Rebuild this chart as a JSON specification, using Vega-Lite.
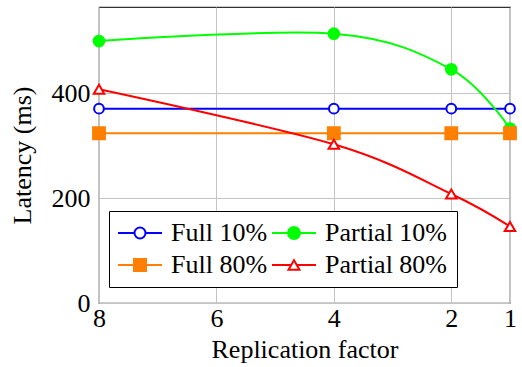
{
  "$schema": "https://vega.github.io/schema/vega-lite/v6.json",
  "width": 411,
  "height": 296,
  "autosize": {"type": "none"},
  "padding": {"left": 99, "top": 7, "right": 12, "bottom": 64},
  "background": "white",
  "config": {
    "font": "Liberation Serif, DejaVu Serif, serif",
    "view": {"stroke": "#333333", "strokeWidth": 1.2},
    "axis": {
      "labelFont": "Liberation Serif, DejaVu Serif, serif",
      "titleFont": "Liberation Serif, DejaVu Serif, serif",
      "labelFontSize": 26,
      "titleFontSize": 26,
      "titleFontWeight": "normal",
      "labelColor": "black",
      "titleColor": "black",
      "gridColor": "#c4c4c4",
      "gridWidth": 1,
      "domain": false,
      "ticks": false,
      "tickSize": 0,
      "labelFlush": false,
      "labelOverlap": false
    },
    "legend": {
      "labelFont": "Liberation Serif, DejaVu Serif, serif",
      "labelFontSize": 26,
      "labelColor": "black",
      "title": null,
      "orient": "none",
      "legendX": 10,
      "legendY": 204,
      "direction": "horizontal",
      "columns": 2,
      "columnPadding": 0,
      "rowPadding": 6,
      "padding": 9,
      "strokeColor": "black",
      "fillColor": "white",
      "symbolSize": 64,
      "symbolStrokeWidth": 2,
      "symbolOpacity": 1,
      "labelOffset": 27
    }
  },
  "data": {
    "values": [
      {"series": "Full 10%", "rf": 8, "latency": 371},
      {"series": "Full 10%", "rf": 4, "latency": 371},
      {"series": "Full 10%", "rf": 2, "latency": 371},
      {"series": "Full 10%", "rf": 1, "latency": 371},
      {"series": "Partial 10%", "rf": 8, "latency": 500},
      {"series": "Partial 10%", "rf": 4, "latency": 514},
      {"series": "Partial 10%", "rf": 2, "latency": 446},
      {"series": "Partial 10%", "rf": 1, "latency": 333},
      {"series": "Full 80%", "rf": 8, "latency": 324},
      {"series": "Full 80%", "rf": 4, "latency": 324},
      {"series": "Full 80%", "rf": 2, "latency": 324},
      {"series": "Full 80%", "rf": 1, "latency": 324},
      {"series": "Partial 80%", "rf": 8, "latency": 408},
      {"series": "Partial 80%", "rf": 4, "latency": 303},
      {"series": "Partial 80%", "rf": 2, "latency": 208},
      {"series": "Partial 80%", "rf": 1, "latency": 146}
    ]
  },
  "encoding": {
    "x": {
      "field": "rf",
      "type": "quantitative",
      "scale": {"domain": [1, 8], "reverse": true, "nice": false, "zero": false},
      "axis": {"values": [8, 6, 4, 2, 1], "title": "Replication factor", "labelPadding": 2, "titlePadding": 5}
    },
    "y": {
      "field": "latency",
      "type": "quantitative",
      "scale": {"domain": [0, 565], "nice": false},
      "axis": {"values": [0, 200, 400], "title": "Latency (ms)", "labelPadding": 9, "titlePadding": 16}
    }
  },
  "layer": [
    {
      "transform": [{"filter": {"field": "series", "equal": "Full 10%"}}],
      "mark": {"type": "line", "interpolate": "cardinal", "tension": 0, "strokeWidth": 2, "stroke": "#0000ff"},
      "encoding": {}
    },
    {
      "transform": [{"filter": {"field": "series", "equal": "Full 10%"}}],
      "mark": {"type": "point", "shape": "circle", "size": 95, "stroke": "#0000ff", "fill": "white", "strokeWidth": 2, "opacity": 1}
    },
    {
      "transform": [{"filter": {"field": "series", "equal": "Partial 10%"}}],
      "mark": {"type": "line", "interpolate": "cardinal", "tension": 0, "strokeWidth": 2, "stroke": "#00ff00"},
      "encoding": {}
    },
    {
      "transform": [{"filter": {"field": "series", "equal": "Partial 10%"}}],
      "mark": {"type": "point", "shape": "circle", "size": 115, "stroke": "#00ff00", "fill": "#00ff00", "strokeWidth": 2, "opacity": 1}
    },
    {
      "transform": [{"filter": {"field": "series", "equal": "Full 80%"}}],
      "mark": {"type": "line", "interpolate": "cardinal", "tension": 0, "strokeWidth": 2, "stroke": "#ff8000"},
      "encoding": {}
    },
    {
      "transform": [{"filter": {"field": "series", "equal": "Full 80%"}}],
      "mark": {"type": "point", "shape": "square", "size": 140, "stroke": "#ff8000", "fill": "#ff8000", "strokeWidth": 2, "opacity": 1}
    },
    {
      "transform": [{"filter": {"field": "series", "equal": "Partial 80%"}}],
      "mark": {"type": "line", "interpolate": "cardinal", "tension": 0, "strokeWidth": 2, "stroke": "#ff0000"},
      "encoding": {}
    },
    {
      "transform": [{"filter": {"field": "series", "equal": "Partial 80%"}}],
      "mark": {"type": "point", "shape": "triangle-up", "size": 110, "stroke": "#ff0000", "fill": "white", "strokeWidth": 2, "opacity": 1}
    },
    {
      "transform": [{"filter": "false"}],
      "mark": {"type": "point", "strokeWidth": 2, "opacity": 1},
      "encoding": {
        "shape": {
          "field": "series",
          "type": "nominal",
          "scale": {
            "domain": ["Full 10%", "Partial 10%", "Full 80%", "Partial 80%"],
            "range": [
              "M-3.25,0H0.875M3.625,0H7.75M3.625,0A1.375,1.375,0,1,1,0.875,0A1.375,1.375,0,1,1,3.625,0Z",
              "M-3.25,0H7.75M3.75,0A1.5,1.5,0,1,1,0.75,0A1.5,1.5,0,1,1,3.75,0Z",
              "M-3.25,0H7.75M0.75,-1.5H3.75V1.5H0.75Z",
              "M-3.25,0H1.5625M2.9375,0H7.75M2.25,-1.19L0.875,1.19L3.625,1.19Z"
            ]
          },
          "legend": {}
        },
        "stroke": {
          "field": "series",
          "type": "nominal",
          "scale": {
            "domain": ["Full 10%", "Partial 10%", "Full 80%", "Partial 80%"],
            "range": ["#0000ff", "#00ff00", "#ff8000", "#ff0000"]
          },
          "legend": {}
        },
        "fill": {
          "field": "series",
          "type": "nominal",
          "scale": {
            "domain": ["Full 10%", "Partial 10%", "Full 80%", "Partial 80%"],
            "range": ["white", "#00ff00", "#ff8000", "white"]
          },
          "legend": {}
        }
      }
    }
  ]
}
